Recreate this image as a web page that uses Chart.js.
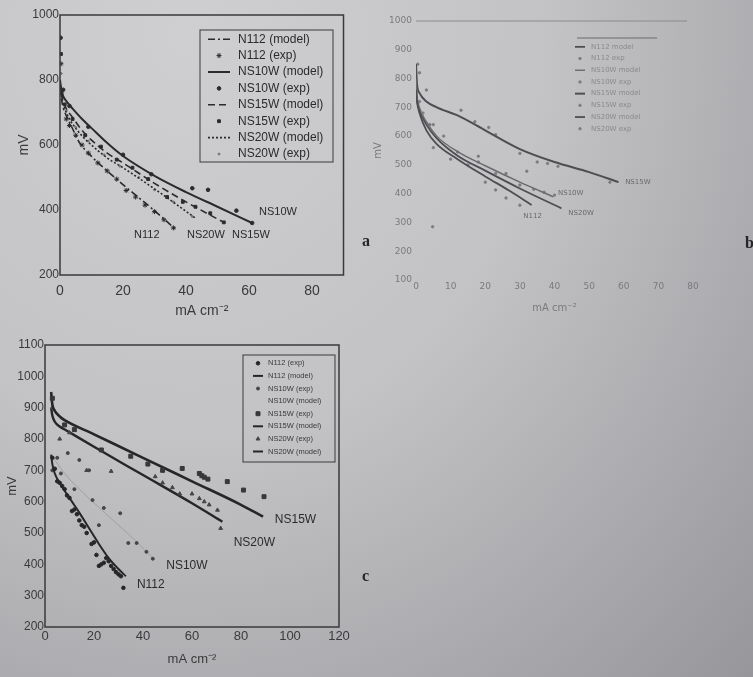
<!DOCTYPE html>
<html>
<head>
<meta charset="utf-8">
<script src="https://cdn.jsdelivr.net/npm/chart.js@4.4.1/dist/chart.umd.min.js"></script>
<style>
    html, body {
        margin: 0;
        padding: 0;
        width: 753px;
        height: 677px;
        overflow: hidden;
    }
    body {
        position: relative;
        background: radial-gradient(ellipse at 25% 5%, #cfcfd1 0%, #c3c3c5 45%, #a7a7ab 80%, #97979b 100%);
        font-family: "Liberation Sans", Arial, sans-serif;
    }
    .panel {
        position: absolute;
    }
    .tag {
        position: absolute;
        font-family: "Liberation Serif", "DejaVu Serif", serif;
        font-weight: bold;
        font-size: 16px;
        color: #262628;
    }
</style>
</head>
<body>
<canvas id="chartA" class="panel" width="350" height="320" style="left:0;top:0"></canvas>
<canvas id="chartB" class="panel" width="393" height="320" style="left:360px;top:0"></canvas>
<canvas id="chartC" class="panel" width="370" height="357" style="left:0;top:320px"></canvas>
<div class="tag" style="left:362px;top:232px">a</div>
<div class="tag" style="left:745px;top:234px">b</div>
<div class="tag" style="left:362px;top:567px">c</div>
<script>
// ---- panel a ----
const aN112ModelX = [0, 0.5, 1, 2, 4, 6, 10, 15, 20, 25, 30, 37];
const aN112ModelY = [790, 740, 715, 690, 650, 610, 565, 520, 478, 438, 398, 338];
const aN112ExpX = [0.3, 0.5, 2, 3, 5, 7, 9, 12, 15, 18, 21, 24, 27, 30, 33, 36];
const aN112ExpY = [850, 760, 680, 660, 630, 600, 575, 545, 520, 495, 460, 440, 415, 395, 370, 345];
const aNS10WModelX = [0, 0.5, 1, 2, 4, 7, 10, 15, 20, 30, 40, 50, 61];
const aNS10WModelY = [800, 765, 750, 735, 712, 680, 652, 606, 566, 505, 455, 410, 360];
const aNS10WExpX = [0.2, 1, 3, 9, 20, 29, 42, 47, 56, 61];
const aNS10WExpY = [930, 770, 720, 656, 570, 510, 467, 462, 398, 360];
const aNS15WModelX = [0, 0.5, 1, 2, 4, 7, 10, 15, 20, 30, 40, 52];
const aNS15WModelY = [795, 755, 735, 712, 685, 645, 615, 575, 545, 482, 425, 362];
const aNS15WExpX = [0.3, 1.5, 4, 8, 13, 18, 23, 28, 34, 39, 43, 47.7, 52];
const aNS15WExpY = [880, 725, 680, 630, 595, 555, 530, 495, 440, 425, 410, 390, 362];
const aNS20WModelX = [0, 0.5, 1, 2, 4, 7, 10, 15, 20, 30, 43];
const aNS20WModelY = [790, 750, 728, 700, 665, 628, 600, 560, 530, 465, 375];
const aNS20WExpX = [0.4, 2, 5, 9, 14, 19, 25, 30, 36, 42];
const aNS20WExpY = [820, 705, 655, 612, 570, 535, 500, 462, 425, 380];

// ---- panel b ----
const bN112ModelX = [0, 0.3, 1, 3, 6, 12, 20, 27, 33.4];
const bN112ModelY = [760, 720, 680, 620, 572, 520, 460, 410, 361];
const bN112ExpX = [2, 5, 10, 15, 20, 23, 26, 30];
const bN112ExpY = [680, 560, 520, 500, 440, 413, 385, 360];
const bNS10WModelX = [0, 0.3, 1, 3, 6, 12, 20, 30, 39.7];
const bNS10WModelY = [800, 740, 700, 650, 600, 546, 497, 440, 389];
const bNS10WExpX = [1, 4, 12, 18, 23, 30, 34, 37, 40];
const bNS10WExpY = [720, 640, 545, 510, 470, 430, 415, 405, 395];
const bNS15WModelX = [0, 0.3, 1, 3, 6, 12, 20, 30, 40, 50, 58.5];
const bNS15WModelY = [850, 780, 750, 720, 700, 672, 620, 555, 510, 475, 440];
const bNS15WExpX = [0.5, 3, 5, 13, 17, 21, 23, 30, 32, 35, 38, 41, 56];
const bNS15WExpY = [850, 760, 640, 690, 650, 630, 605, 540, 478, 510, 505, 495, 440];
const bNS20WModelX = [0, 0.3, 1, 3, 6, 12, 20, 30, 42];
const bNS20WModelY = [780, 725, 690, 640, 592, 532, 480, 418, 349];
const bNS20WExpX = [1, 4.8, 8, 18, 26];
const bNS20WExpY = [820, 285, 600, 530, 470];

// ---- panel c ----
const cN112ExpX = [3, 4, 5, 6, 7, 8, 9, 10, 11, 12, 13, 14, 15, 16, 17, 19, 20, 21, 22, 23, 24, 25, 26, 27, 28, 29, 30, 31, 32];
const cN112ExpY = [740, 705, 665, 660, 650, 640, 620, 612, 570, 575, 560, 540, 525, 520, 500, 465, 470, 430, 395, 400, 405, 420, 410, 395, 385, 375, 368, 362, 325];
const cN112ModelX = [2.5, 3, 4, 6, 8, 11, 14, 18, 22, 26, 30, 33];
const cN112ModelY = [750, 720, 690, 660, 635, 600, 565, 515, 465, 420, 385, 362];
const cNS10WExpX = [3, 5, 6.5, 9.3, 12, 14, 18, 19.4, 22, 24, 30.7, 34, 37.4, 41.4, 44];
const cNS10WExpY = [700, 740, 690, 755, 640, 733, 700, 605, 525, 580, 563, 468, 468, 440, 418];
const cNS10WModelX = [3, 8, 14, 22, 30, 37, 44];
const cNS10WModelY = [745, 690, 640, 582, 525, 475, 420];
const cNS15WExpX = [3, 8, 12, 23, 35, 42, 48, 56, 63, 64, 65, 66.5, 74.4, 81, 89.4];
const cNS15WExpY = [930, 845, 830, 765, 745, 720, 700, 706, 690, 683, 678, 672, 664, 637, 616];
const cNS15WModelX = [2.5, 3, 4, 6, 8, 20, 40, 60, 80, 89];
const cNS15WModelY = [950, 910, 890, 872, 860, 815, 740, 665, 590, 552];
const cNS20WExpX = [3, 6, 10, 17, 27, 45, 48, 52, 55, 60, 63, 65, 67, 70.4, 71.7];
const cNS20WExpY = [900, 800, 820, 700, 697, 680, 660, 645, 625, 625, 610, 600, 590, 573, 515];
const cNS20WModelX = [2.5, 3, 4, 6, 8.4, 20, 40, 60, 72.4];
const cNS20WModelY = [900, 875, 855, 840, 829, 775, 685, 595, 536];

const pts = (xs, ys) => xs.map((x, i) => ({ x: x, y: ys[i] }));

function lineSet(label, xs, ys, color, width, dash) {
    return {
        label: label,
        data: pts(xs, ys),
        showLine: true,
        borderColor: color,
        borderWidth: width,
        borderDash: dash || [],
        pointRadius: 0,
        cubicInterpolationMode: 'monotone',
        fill: false
    };
}

function pointSet(label, xs, ys, color, style, radius) {
    return {
        label: label,
        data: pts(xs, ys),
        showLine: false,
        pointStyle: style,
        pointRadius: radius,
        pointBackgroundColor: color,
        pointBorderColor: color,
        pointBorderWidth: 1,
        borderColor: color,
        backgroundColor: color
    };
}

// draws frame, curve labels and the boxed legend
const extrasPlugin = {
    id: 'extras',
    afterDatasetsDraw(chart, args, opts) {
        const ctx = chart.ctx;
        const ca = chart.chartArea;
        const xs = chart.scales.x;
        const ys = chart.scales.y;
        ctx.save();

        ctx.strokeStyle = opts.frameColor;
        ctx.lineWidth = opts.frameWidth;
        ctx.setLineDash([]);
        if (opts.frame === 'box') {
            ctx.strokeRect(ca.left, ca.top, ca.width, ca.height);
        } else if (opts.frame === 'top') {
            ctx.beginPath();
            ctx.moveTo(ca.left, ca.top);
            ctx.lineTo(ca.right - opts.topTrim, ca.top);
            ctx.stroke();
        }

        ctx.font = opts.labelFont;
        ctx.fillStyle = opts.labelColor;
        ctx.textBaseline = 'middle';
        ctx.textAlign = 'left';
        opts.labels.forEach(l => {
            ctx.fillText(l.text, xs.getPixelForValue(l.x), ys.getPixelForValue(l.y));
        });

        const lg = opts.legend;
        const left = ca.right - lg.right - lg.width;
        const top = ca.top + lg.top;
        ctx.strokeStyle = lg.borderColor;
        ctx.lineWidth = 1;
        if (lg.box) {
            ctx.strokeRect(left, top, lg.width, lg.height);
        } else {
            ctx.beginPath();
            ctx.moveTo(left, top);
            ctx.lineTo(left + lg.width, top);
            ctx.stroke();
        }
        ctx.font = lg.font;
        chart.data.datasets.forEach((ds, i) => {
            const cy = top + lg.pad + lg.rowH * (i + 0.5);
            const sx = left + lg.symX;
            if (ds.showLine) {
                if (ds.borderWidth > 0 && !ds.hideInLegend) {
                    ctx.strokeStyle = ds.borderColor;
                    ctx.lineWidth = Math.min(ds.borderWidth, 2);
                    ctx.setLineDash(ds.borderDash || []);
                    ctx.beginPath();
                    ctx.moveTo(sx, cy);
                    ctx.lineTo(sx + lg.symW, cy);
                    ctx.stroke();
                    ctx.setLineDash([]);
                }
            } else {
                ctx.fillStyle = ds.pointBackgroundColor;
                ctx.strokeStyle = ds.pointBorderColor;
                ctx.lineWidth = 1;
                Chart.helpers.drawPoint(ctx, { pointStyle: ds.pointStyle, radius: ds.pointRadius, rotation: 0, borderWidth: 1 }, sx + lg.symW / 2, cy);
            }
            ctx.fillStyle = lg.color;
            ctx.fillText(ds.label, left + lg.textX, cy);
        });
        ctx.restore();
    }
};

function axes(cfg) {
    const tickFont = (size) => ({ family: cfg.family, size: size });
    return {
        x: {
            type: 'linear',
            min: cfg.xMin,
            max: cfg.xMax,
            grid: { display: false, drawTicks: false },
            border: { display: false },
            ticks: {
                stepSize: cfg.xStep,
                includeBounds: false,
                color: cfg.textColor,
                font: tickFont(cfg.xTickSize),
                padding: cfg.xTickPad,
                maxRotation: 0,
                callback: (v) => String(v)
            },
            title: {
                display: true,
                text: 'mA cm\u207B\u00B2',
                color: cfg.textColor,
                font: tickFont(cfg.titleSize),
                padding: 0
            },
            afterFit: (s) => { s.height = cfg.xAxisH; }
        },
        y: {
            type: 'linear',
            min: cfg.yMin,
            max: cfg.yMax,
            grid: { display: false, drawTicks: false },
            border: { display: false },
            ticks: {
                stepSize: cfg.yStep,
                color: cfg.textColor,
                font: tickFont(cfg.yTickSize),
                padding: cfg.yTickPad,
                callback: (v) => String(v)
            },
            title: {
                display: true,
                text: 'mV',
                color: cfg.textColor,
                font: tickFont(cfg.titleSize),
                padding: 0
            },
            afterFit: (s) => { s.width = cfg.yAxisW; }
        }
    };
}

const baseOpts = {
    responsive: false,
    animation: false,
    devicePixelRatio: 1,
    events: []
};

// ---- chart a ----
const inkA = '#2b2b2e';
new Chart(document.getElementById('chartA'), {
    type: 'scatter',
    data: {
        datasets: [
            lineSet('N112 (model)', aN112ModelX, aN112ModelY, inkA, 1.6, [7, 3, 2, 3]),
            pointSet('N112 (exp)', aN112ExpX, aN112ExpY, inkA, 'star', 2.5),
            lineSet('NS10W (model)', aNS10WModelX, aNS10WModelY, inkA, 2),
            pointSet('NS10W (exp)', aNS10WExpX, aNS10WExpY, inkA, 'circle', 1.8),
            lineSet('NS15W (model)', aNS15WModelX, aNS15WModelY, inkA, 1.6, [7, 4]),
            pointSet('NS15W (exp)', aNS15WExpX, aNS15WExpY, inkA, 'rect', 2),
            lineSet('NS20W (model)', aNS20WModelX, aNS20WModelY, inkA, 1.6, [2, 2]),
            pointSet('NS20W (exp)', aNS20WExpX, aNS20WExpY, '#77777a', 'circle', 1)
        ]
    },
    options: Object.assign({}, baseOpts, {
        layout: { padding: { left: 16, top: 15, right: 6.5, bottom: 0 } },
        scales: axes({
            family: 'Liberation Sans', textColor: '#3a3a3d',
            xMin: 0, xMax: 90, xStep: 20, yMin: 200, yMax: 1000, yStep: 200,
            xTickSize: 14, yTickSize: 12, titleSize: 14,
            xTickPad: 8, yTickPad: 1, xAxisH: 45, yAxisW: 44
        }),
        plugins: {
            legend: { display: false },
            tooltip: { enabled: false },
            extras: {
                frame: 'box', frameColor: '#3a3a3d', frameWidth: 1.5, topTrim: 0,
                labelFont: '11px "Liberation Sans"', labelColor: '#2b2b2e',
                labels: [
                    { text: 'NS10W', x: 63.2, y: 394 },
                    { text: 'NS15W', x: 54.6, y: 323 },
                    { text: 'NS20W', x: 40.3, y: 323 },
                    { text: 'N112', x: 23.5, y: 323 }
                ],
                legend: {
                    box: true, borderColor: '#3a3a3d', color: '#2b2b2e',
                    font: '12px "Liberation Sans"',
                    right: 10.5, top: 15, width: 133, height: 132,
                    pad: 1, rowH: 16.4, symX: 8, symW: 22, textX: 38
                }
            }
        }
    }),
    plugins: [extrasPlugin]
});

// ---- chart b ----
const inkB = '#4e4e52';
const dotB = '#7c7c80';
new Chart(document.getElementById('chartB'), {
    type: 'scatter',
    data: {
        datasets: [
            lineSet('N112 model', bN112ModelX, bN112ModelY, inkB, 1.8),
            pointSet('N112 exp', bN112ExpX, bN112ExpY, dotB, 'circle', 1.2),
            lineSet('NS10W model', bNS10WModelX, bNS10WModelY, '#6a6a6e', 1.4),
            pointSet('NS10W exp', bNS10WExpX, bNS10WExpY, dotB, 'circle', 1.2),
            lineSet('NS15W model', bNS15WModelX, bNS15WModelY, inkB, 2),
            pointSet('NS15W exp', bNS15WExpX, bNS15WExpY, dotB, 'circle', 1.2),
            lineSet('NS20W model', bNS20WModelX, bNS20WModelY, inkB, 1.8),
            pointSet('NS20W exp', bNS20WExpX, bNS20WExpY, dotB, 'circle', 1.2)
        ]
    },
    options: Object.assign({}, baseOpts, {
        layout: { padding: { left: 12, top: 21, right: 60, bottom: 6 } },
        scales: axes({
            family: 'DejaVu Sans', textColor: '#7a7a7e',
            xMin: 0, xMax: 80, xStep: 10, yMin: 100, yMax: 1000, yStep: 100,
            xTickSize: 9, yTickSize: 9, titleSize: 10,
            xTickPad: 1, yTickPad: 4, xAxisH: 34, yAxisW: 44
        }),
        plugins: {
            legend: { display: false },
            tooltip: { enabled: false },
            extras: {
                frame: 'top', frameColor: '#8a8a8e', frameWidth: 1, topTrim: 6,
                labelFont: '7px "DejaVu Sans"', labelColor: '#6a6a6e',
                labels: [
                    { text: 'NS15W', x: 60.4, y: 440 },
                    { text: 'NS10W', x: 41, y: 402 },
                    { text: 'NS20W', x: 44, y: 333 },
                    { text: 'N112', x: 31, y: 322 }
                ],
                legend: {
                    box: false, borderColor: '#6a6a6e', color: '#8a8a8e',
                    font: '7px "DejaVu Sans"',
                    right: 36, top: 17, width: 80, height: 95,
                    pad: 3, rowH: 11.7, symX: -2, symW: 10, textX: 14
                }
            }
        }
    }),
    plugins: [extrasPlugin]
});

// ---- chart c ----
const inkC = '#262629';
new Chart(document.getElementById('chartC'), {
    type: 'scatter',
    data: {
        datasets: [
            pointSet('N112 (exp)', cN112ExpX, cN112ExpY, inkC, 'circle', 1.8),
            lineSet('N112 (model)', cN112ModelX, cN112ModelY, inkC, 2),
            pointSet('NS10W (exp)', cNS10WExpX, cNS10WExpY, '#444448', 'circle', 1.5),
            Object.assign(lineSet('NS10W (model)', cNS10WModelX, cNS10WModelY, '#a0a0a4', 1), { hideInLegend: true }),
            pointSet('NS15W (exp)', cNS15WExpX, cNS15WExpY, '#38383b', 'rect', 2.8),
            lineSet('NS15W (model)', cNS15WModelX, cNS15WModelY, inkC, 2.6),
            pointSet('NS20W (exp)', cNS20WExpX, cNS20WExpY, '#444448', 'triangle', 2.2),
            lineSet('NS20W (model)', cNS20WModelX, cNS20WModelY, inkC, 2.4)
        ]
    },
    options: Object.assign({}, baseOpts, {
        layout: { padding: { left: 5, top: 25, right: 31, bottom: 10 } },
        scales: axes({
            family: 'Liberation Sans', textColor: '#3a3a3d',
            xMin: 0, xMax: 120, xStep: 20, yMin: 200, yMax: 1100, yStep: 100,
            xTickSize: 13, yTickSize: 12, titleSize: 13,
            xTickPad: 2, yTickPad: 1, xAxisH: 40, yAxisW: 40
        }),
        plugins: {
            legend: { display: false },
            tooltip: { enabled: false },
            extras: {
                frame: 'box', frameColor: '#3a3a3d', frameWidth: 1.5, topTrim: 0,
                labelFont: '12px "Liberation Sans"', labelColor: '#2b2b2e',
                labels: [
                    { text: 'NS15W', x: 93.8, y: 541 },
                    { text: 'NS20W', x: 77, y: 468 },
                    { text: 'NS10W', x: 49.5, y: 395 },
                    { text: 'N112', x: 37.5, y: 334 }
                ],
                legend: {
                    box: true, borderColor: '#3a3a3d', color: '#3a3a3d',
                    font: '7.5px "Liberation Sans"',
                    right: 4, top: 10, width: 92, height: 107,
                    pad: 2, rowH: 12.6, symX: 10, symW: 10, textX: 25
                }
            }
        }
    }),
    plugins: [extrasPlugin]
});
</script>
</body>
</html>
